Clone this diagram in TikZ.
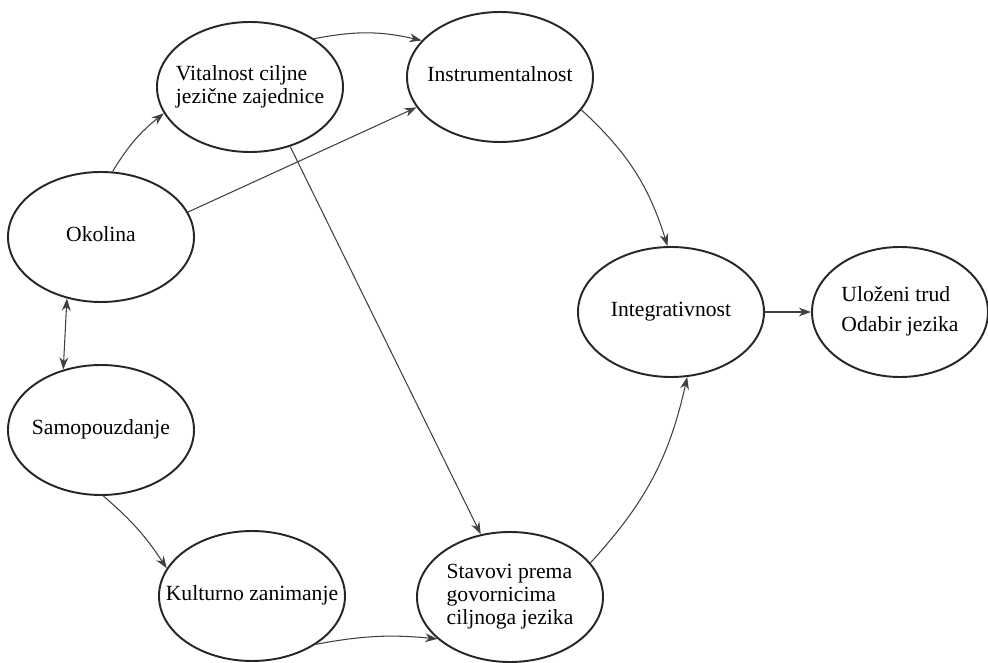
\documentclass[tikz,border=0pt]{standalone}
\usepackage{fontspec}
\setmainfont{Liberation Serif}
\usetikzlibrary{shapes.geometric,arrows.meta}
\tikzset{
	>={Stealth[length=7pt,width=5pt]},
	oval/.style={draw=black!85, line width=1.1pt, ellipse, minimum width=3.72cm, minimum height=2.6cm, inner sep=0pt, font=\fontsize{12.3}{13.2}\selectfont},
	veza/.style={draw=black!75, line width=0.6pt, ->}
}
\newcommand{\tekst}[1]{\makebox[0pt]{\begin{tabular}{@{}l@{}}#1\end{tabular}}}

\begin{document}
\begin{tikzpicture}
	\useasboundingbox (0,0) rectangle (19.76,13.24);
	% elipse
	\node[oval] (vitalnost) at (5.0,11.5) {\tekst{Vitalnost ciljne\\jezične zajednice}};
	\node[oval] (instrumentalnost) at (10.0,11.7) {\tekst{Instrumentalnost}};
	\node[oval] (okolina) at (2.02,8.5) {\tekst{Okolina}};
	\node[oval] (samopouzdanje) at (2.02,4.64) {\tekst{Samopouzdanje}};
	\node[oval] (kulturno) at (5.04,1.32) {\tekst{Kulturno zanimanje}};
	\node[oval] (stavovi) at (10.2,1.3) {\tekst{Stavovi prema\\govornicima\\ciljnoga jezika}};
	\node[oval] (integrativnost) at (13.42,7.0) {\tekst{Integrativnost}};
	\node[oval, minimum width=3.52cm] (ulozeni) at (18.0,7.0) {\tekst{Uloženi trud\\[4pt]Odabir jezika}};
	% veze
	\draw[veza] (okolina.80) to[bend left=10] (vitalnost.197);
	\draw[veza] (okolina.16) -- (instrumentalnost.200);
	\draw[veza] (vitalnost.37) to[bend left=12] (instrumentalnost.155);
	\draw[veza] (vitalnost.304) -- (stavovi.115);
	\draw[veza] (instrumentalnost.338) to[bend left=15] (integrativnost.93);
	\draw[veza, <->] (okolina.241) -- (samopouzdanje.122);
	\draw[veza] (samopouzdanje.272) to[bend left=8] (kulturno.162);
	\draw[veza] (kulturno.323) to[bend left=8] (stavovi.210);
	\draw[veza] (stavovi.23) to[bend right=15] (integrativnost.284);
	\draw[veza] (integrativnost) -- (ulozeni);
\end{tikzpicture}
\end{document}
